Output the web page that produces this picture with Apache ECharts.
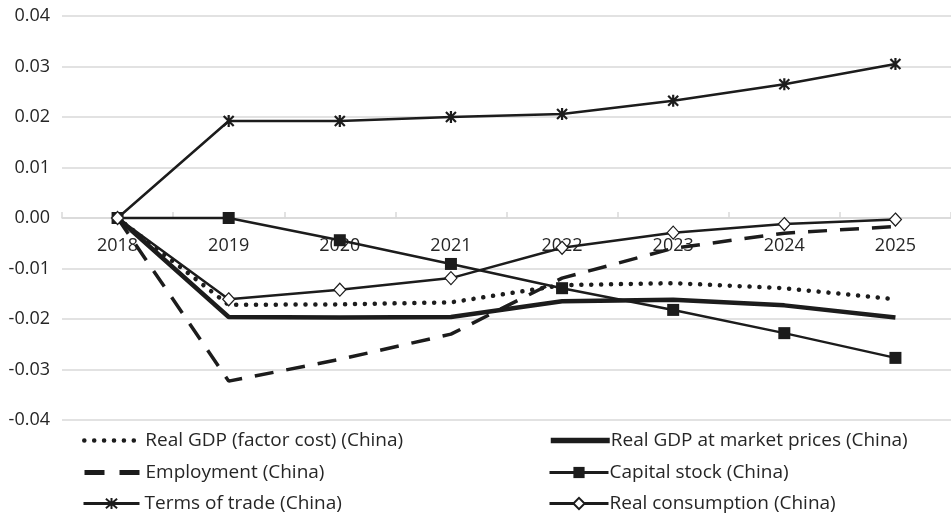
<!DOCTYPE html>
<html>
<head>
<meta charset="utf-8">
<script src="https://cdn.jsdelivr.net/npm/echarts@6/dist/echarts.min.js"></script>
<style>
html,body{margin:0;padding:0;background:#fff;}
#chart{width:951px;height:519px;}
</style>
</head>
<body>
<div id="chart"></div>
<script>
var years = ['2018','2019','2020','2021','2022','2023','2024','2025'];
var yTicks = { min: -0.04, max: 0.04, interval: 0.01 };
var gdpFactorCost = [0, -0.0172, -0.0171, -0.0167, -0.0133, -0.0129, -0.0139, -0.0161];
var gdpMarket = [0, -0.0196, -0.0197, -0.0196, -0.0165, -0.0162, -0.0173, -0.0197];
var employment = [0, -0.0323, -0.0280, -0.0230, -0.0119, -0.0060, -0.0030, -0.0017];
var capitalStock = [0, 0, -0.0044, -0.0091, -0.0139, -0.0182, -0.0228, -0.0277];
var termsOfTrade = [0, 0.0192, 0.0192, 0.0200, 0.0206, 0.0232, 0.0265, 0.0305];
var realConsumption = [0, -0.0161, -0.0142, -0.0119, -0.0059, -0.0029, -0.0012, -0.0003];

var names = [
  'Real GDP (factor cost) (China)',
  'Real GDP at market prices (China)',
  'Employment (China)',
  'Capital stock (China)',
  'Terms of trade (China)',
  'Real consumption (China)'
];
var INK = '#1c1c1c';
var TXT = '#262626';
var FONT = 'Open Sans';
var asterisk = 'path://M0,0L10,10M10,0L0,10M5,-1L5,11';

var gridTop = 16, gridBottomPx = 420;
var zeroOffset = -(gridBottomPx - gridTop) * (0 - yTicks.min) / (yTicks.max - yTicks.min);

function legendAt(name, left, top, w, gap, noSymbol, lineStyle) {
  var item = { name: name, lineStyle: lineStyle };
  if (noSymbol) item.itemStyle = { opacity: 0 };
  return {
    data: [item],
    orient: 'horizontal', left: left, top: top,
    itemWidth: w, itemHeight: 14, padding: 0,
    textStyle: { color: TXT, fontFamily: FONT, fontSize: 19, padding: [0, 0, 0, gap] }
  };
}

var chart = echarts.init(document.getElementById('chart'));
chart.setOption({
  animation: false,
  backgroundColor: '#fff',
  grid: { left: 62, right: -6, top: gridTop, bottom: 519 - gridBottomPx, containLabel: false },
  xAxis: {
    type: 'category',
    data: years,
    boundaryGap: true,
    position: 'bottom',
    offset: zeroOffset,
    axisLine: { onZero: false, lineStyle: { color: '#d9d9d9', width: 1.5 } },
    axisTick: { show: true, inside: true, length: 6, lineStyle: { color: '#d9d9d9', width: 1.5 } },
    axisLabel: { color: TXT, fontFamily: FONT, fontSize: 18, margin: 19 },
    splitLine: { show: false },
    z: 1
  },
  yAxis: {
    type: 'value',
    min: yTicks.min, max: yTicks.max, interval: yTicks.interval,
    axisLine: { show: false },
    axisTick: { show: false },
    axisLabel: {
      color: TXT, fontFamily: FONT, fontSize: 18, margin: 12,
      formatter: function (v) { return v.toFixed(2); }
    },
    splitLine: { lineStyle: { color: '#d9d9d9', width: 1.5 } }
  },
  legend: [
    legendAt(names[0], 82, 431, 56, 0, true, { color: INK, width: 4.5, type: [0.1, 9.8], cap: 'round' }),
    legendAt(names[2], 82, 463, 56, 0, true, { color: INK, width: 5, type: [20, 15] }),
    legendAt(names[4], 82, 494, 56, 0, false, { color: INK, width: 3 }),
    legendAt(names[1], 548, 431, 59, -4, true, { color: INK, width: 5.5 }),
    legendAt(names[3], 548, 463, 59, -4, false, { color: INK, width: 3 }),
    legendAt(names[5], 548, 494, 59, -4, false, { color: INK, width: 3 })
  ],
  series: [
    {
      name: names[0], type: 'line', data: gdpFactorCost, symbol: 'none',
      lineStyle: { color: INK, width: 4.5, type: [0.1, 9.8], cap: 'round' },
      itemStyle: { color: INK }, z: 3
    },
    {
      name: names[1], type: 'line', data: gdpMarket, symbol: 'none',
      lineStyle: { color: INK, width: 4.5 },
      itemStyle: { color: INK }, z: 3
    },
    {
      name: names[2], type: 'line', data: employment, symbol: 'none',
      lineStyle: { color: INK, width: 3.5, type: [19, 13] },
      itemStyle: { color: INK }, z: 3
    },
    {
      name: names[3], type: 'line', data: capitalStock,
      symbol: 'rect', symbolSize: 12,
      lineStyle: { color: INK, width: 2.5 },
      itemStyle: { color: INK, borderColor: INK, borderWidth: 0 }, z: 4
    },
    {
      name: names[4], type: 'line', data: termsOfTrade,
      symbol: asterisk, symbolSize: 12, symbolKeepAspect: true,
      lineStyle: { color: INK, width: 2.5 },
      itemStyle: { color: INK, borderColor: INK, borderWidth: 2.2 }, z: 4
    },
    {
      name: names[5], type: 'line', data: realConsumption,
      symbol: 'diamond', symbolSize: [12, 13],
      lineStyle: { color: INK, width: 2.5 },
      itemStyle: { color: '#fff', borderColor: INK, borderWidth: 1.2 }, z: 5
    }
  ]
});
</script>
</body>
</html>
